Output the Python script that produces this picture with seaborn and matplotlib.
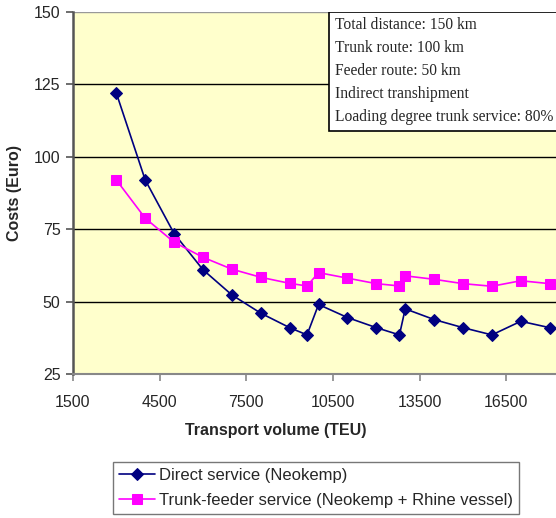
import matplotlib
matplotlib.use("Agg")
import matplotlib.pyplot as plt
import seaborn as sns
import pandas as pd
from matplotlib.patches import Rectangle

# values
volume = [3000, 4000, 5000, 6000, 7000, 8000, 9000, 9600, 10000, 11000,
          12000, 12800, 13000, 14000, 15000, 16000, 17000, 18000]
direct_cost = [122, 92, 73.5, 61, 52.3, 46, 41, 38.5, 49, 44.5,
               41, 38.5, 47.5, 43.8, 41, 38.5, 43.2, 41]
feeder_cost = [92, 78.8, 70.5, 65.3, 61.2, 58.4, 56.3, 55.4, 60, 58.1,
               56.2, 55.4, 58.9, 57.7, 56.2, 55.3, 57.2, 56.2]
series_names = ["Direct service (Neokemp)",
                "Trunk-feeder service (Neokemp + Rhine vessel)"]
x_ticks = [1500, 4500, 7500, 10500, 13500, 16500]
y_ticks = [25, 50, 75, 100, 125, 150]
info_lines = ["Total distance: 150 km", "Trunk route: 100 km",
              "Feeder route: 50 km", "Indirect transhipment",
              "Loading degree trunk service: 80%"]

df_direct = pd.DataFrame({"volume": volume, "cost": direct_cost})
df_feeder = pd.DataFrame({"volume": volume, "cost": feeder_cost})

sns.set_style("white")
plt.rcParams["font.family"] = ["Liberation Sans", "DejaVu Sans"]

fig = plt.figure(figsize=(5.56, 5.18), dpi=100)
# axes run past the right figure edge, so the chart looks cropped like the reference
ax = fig.add_axes([73 / 556, 1 - 374 / 518, 520 / 556, 362 / 518])
ax.set_facecolor("#FFFFCC")

sns.lineplot(data=df_direct, x="volume", y="cost", ax=ax, color="#000080",
             marker="D", markersize=6.5, markeredgecolor="#000080",
             linewidth=1.2, label=series_names[0])
sns.lineplot(data=df_feeder, x="volume", y="cost", ax=ax, color="#FF00FF",
             marker="s", markersize=7.5, markeredgecolor="#FF00FF",
             linewidth=1.2, label=series_names[1])

ax.set_xlim(1500, 19500)
ax.set_ylim(25, 150)
ax.set_xticks(x_ticks)
ax.set_yticks(y_ticks)
ax.set_xticklabels([str(v) for v in x_ticks])
ax.yaxis.grid(True, color="black", linewidth=1)
ax.yaxis.get_gridlines()[-1].set_color("#999999")
ax.set_axisbelow(True)

for side in ["top", "right"]:
    ax.spines[side].set_visible(False)
ax.spines["left"].set_color("#555555")
ax.spines["left"].set_linewidth(1.8)
ax.spines["bottom"].set_color("#888888")
ax.spines["bottom"].set_linewidth(1.5)
ax.tick_params(axis="y", direction="out", length=5, width=1.2, color="#555555",
               labelsize=11.5, pad=4, left=True)
ax.tick_params(axis="x", direction="out", length=5, width=1.2, color="#888888",
               labelsize=11.5, pad=10, bottom=True)

ax.set_xlabel("Transport volume (TEU)", fontsize=11.5, fontweight="bold")
ax.set_ylabel("Costs (Euro)", fontsize=11.5, fontweight="bold")
ax.xaxis.set_label_coords((276 - 73) / 520, -(423 - 374) / 362)
ax.yaxis.set_label_coords(-(73 - 22) / 520, 0.5)

# info box in the top right corner
box_x = (329 - 73) / 520
box_y = (374 - 131) / 362
ax.add_patch(Rectangle((box_x, box_y), 1.0, 1 - box_y, transform=ax.transAxes,
                       facecolor="white", edgecolor="black", linewidth=1.2,
                       zorder=5))
for i, line in enumerate(info_lines):
    ax.text((335 - 73) / 520, (374 - 25 - 23 * i) / 362, line,
            transform=ax.transAxes, family=["Liberation Serif", "DejaVu Serif"],
            fontsize=11.2, va="center", ha="left", zorder=6)

ax.get_legend().remove()
handles, labels = ax.get_legend_handles_labels()
leg = fig.legend(handles, labels, loc="upper left",
                 bbox_to_anchor=(113 / 556, 1 - 462 / 518), fontsize=12,
                 frameon=True, fancybox=False, borderpad=0.35,
                 labelspacing=0.6, handlelength=2.15, handletextpad=0.25,
                 borderaxespad=0)
leg.get_frame().set_edgecolor("#555555")
leg.get_frame().set_linewidth(1.0)

fig.savefig("out.png", dpi=100)
